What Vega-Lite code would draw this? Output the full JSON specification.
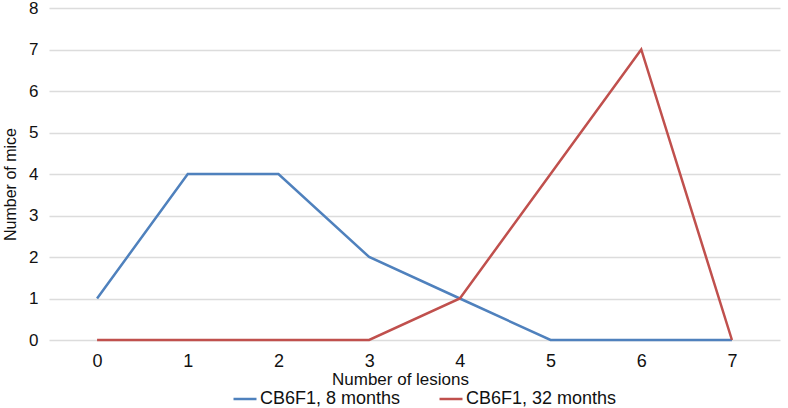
{
  "$schema": "https://vega.github.io/schema/vega-lite/v6.json",
  "autosize": {"type": "none"},
  "width": 731,
  "height": 332,
  "padding": {"left": 49, "top": 8, "right": 8, "bottom": 68},
  "background": "white",
  "config": {
    "view": {"stroke": null},
    "font": "Liberation Sans",
    "axis": {"labelFont": "Liberation Sans", "titleFont": "Liberation Sans", "labelColor": "#111", "titleColor": "#111", "titleFontWeight": "normal"},
    "legend": {"labelFont": "Liberation Sans", "labelColor": "#111"}
  },
  "data": {
    "values": [
      {"lesions": "0", "series": "CB6F1, 8 months", "mice": 1},
      {"lesions": "1", "series": "CB6F1, 8 months", "mice": 4},
      {"lesions": "2", "series": "CB6F1, 8 months", "mice": 4},
      {"lesions": "3", "series": "CB6F1, 8 months", "mice": 2},
      {"lesions": "4", "series": "CB6F1, 8 months", "mice": 1},
      {"lesions": "5", "series": "CB6F1, 8 months", "mice": 0},
      {"lesions": "6", "series": "CB6F1, 8 months", "mice": 0},
      {"lesions": "7", "series": "CB6F1, 8 months", "mice": 0},
      {"lesions": "0", "series": "CB6F1, 32 months", "mice": 0},
      {"lesions": "1", "series": "CB6F1, 32 months", "mice": 0},
      {"lesions": "2", "series": "CB6F1, 32 months", "mice": 0},
      {"lesions": "3", "series": "CB6F1, 32 months", "mice": 0},
      {"lesions": "4", "series": "CB6F1, 32 months", "mice": 1},
      {"lesions": "5", "series": "CB6F1, 32 months", "mice": 4},
      {"lesions": "6", "series": "CB6F1, 32 months", "mice": 7},
      {"lesions": "7", "series": "CB6F1, 32 months", "mice": 0}
    ]
  },
  "mark": {"type": "line", "strokeWidth": 2.5},
  "encoding": {
    "x": {
      "field": "lesions",
      "type": "ordinal",
      "scale": {"type": "point", "padding": 0.53},
      "axis": {
        "title": "Number of lesions",
        "labelAngle": 0,
        "labelFontSize": 18,
        "labelPadding": 12,
        "ticks": false,
        "domain": false,
        "grid": false,
        "titleFontSize": 17,
        "titleX": 351,
        "titleY": 31,
        "titleAlign": "center",
        "titleBaseline": "top"
      }
    },
    "y": {
      "field": "mice",
      "type": "quantitative",
      "scale": {"domain": [0, 8], "nice": false},
      "axis": {
        "title": "Number of mice",
        "values": [0, 1, 2, 3, 4, 5, 6, 7, 8],
        "labelFontSize": 17,
        "labelPadding": 11,
        "ticks": false,
        "domain": false,
        "grid": true,
        "gridColor": "#dcdcdc",
        "gridWidth": 1.5,
        "titleFontSize": 16,
        "titleAngle": -90,
        "titleX": -39,
        "titleY": 176,
        "titleAlign": "center",
        "titleBaseline": "middle"
      }
    },
    "color": {
      "field": "series",
      "type": "nominal",
      "sort": ["CB6F1, 8 months", "CB6F1, 32 months"],
      "scale": {"domain": ["CB6F1, 8 months", "CB6F1, 32 months"], "range": ["#4F81BD", "#C0504D"]},
      "legend": {
        "title": null,
        "orient": "none",
        "direction": "horizontal",
        "legendX": 183,
        "legendY": 378,
        "symbolType": "stroke",
        "symbolSize": 529,
        "symbolStrokeWidth": 2.5,
        "labelFontSize": 18,
        "labelOffset": 2,
        "labelLimit": 300,
        "columnPadding": 33
      }
    }
  }
}
